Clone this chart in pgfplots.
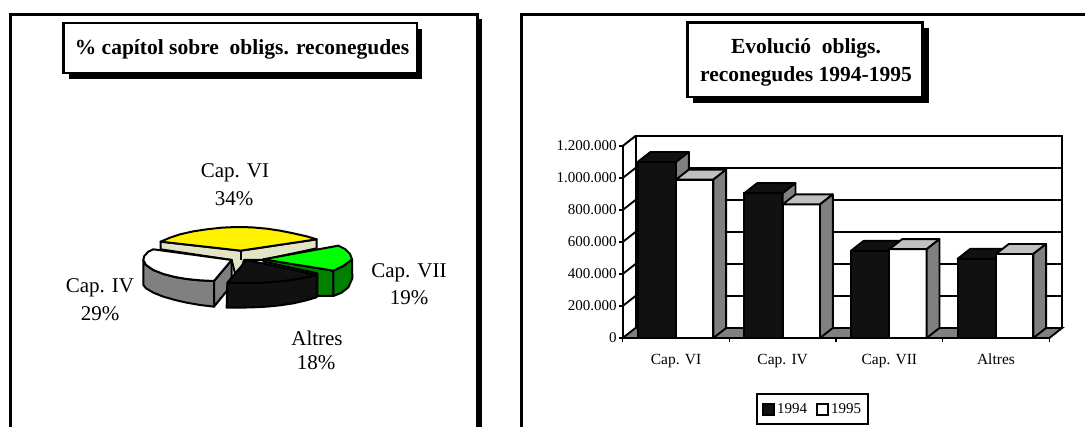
\documentclass[border=0pt]{standalone}
\usepackage{fontspec}
\setmainfont{Liberation Serif}
\usepackage{pgfplots}
\pgfplotsset{compat=1.18}
\definecolor{bardark}{HTML}{111111}
\definecolor{sidegray}{HTML}{808080}
\definecolor{topgray}{HTML}{C0C0C0}
\definecolor{beige}{HTML}{E3E3C6}
\definecolor{piegreen}{HTML}{00FF00}
\definecolor{darkgreen}{HTML}{008000}
\newcommand{\fs}[1]{\fontsize{#1}{#1}\selectfont}
% top and side face of a bar: x0, x1, x0 back, x1 back, value, value back, top colour
\newcommand{\caixa}[7]{
  \addplot[forget plot, fill=#7, draw=black, line width=1.9pt, line join=round] coordinates {(#1,#5) (#3,#6) (#4,#6) (#2,#5)} --cycle;
  \addplot[forget plot, fill=sidegray, draw=black, line width=1.9pt, line join=round] coordinates {(#2,#5) (#4,#6) (#4,62500) (#2,0)} --cycle;
}
\pgfplotsset{
  every axis/.append style={scale only axis},
  pieface/.style={draw=black, line width=2pt, line join=round},
}
\begin{document}
\begin{tikzpicture}[x=1pt,y=1pt]
\path[use as bounding box] (0pt,0pt) rectangle (1085pt,427pt);

% page furniture, in image pixels
\begin{axis}[at={(0pt,0pt)}, anchor=south west, width=1085pt, height=427pt,
  xmin=0, xmax=1085, ymin=0, ymax=427, y dir=reverse, axis lines=none, clip=false]
  \fill[black] (477,19) rectangle (481.5,427);
  \draw[line width=3pt] (10,427) -- (10,14.5) -- (477,14.5) -- (477,427);
  \draw[line width=3pt] (521,427) -- (521,14.5) -- (1085,14.5);

  \fill[black] (69,29) rectangle (422,79);
  \draw[line width=2.2pt, fill=white] (63.5,23) rectangle (417,73);
  \node[font=\fs{21.5}\bfseries] at (242,49) {\% capítol sobre\ \ obligs. reconegudes};

  \fill[black] (693,28) rectangle (929,103);
  \draw[line width=2.2pt, fill=white] (687.5,22.5) rectangle (922.5,97);
  \node[font=\fs{21.5}\bfseries] at (806,48.5) {Evolució\ \ obligs.};
  \node[font=\fs{21.5}\bfseries] at (806,76.5) {reconegudes 1994-1995};

  \node[font=\fs{21}] at (235,173) {Cap. VI};
  \node[font=\fs{21}] at (234,199) {34\%};
  \node[font=\fs{21}] at (409,272.5) {Cap. VII};
  \node[font=\fs{21}] at (409,298) {19\%};
  \node[font=\fs{21}] at (100,288) {Cap. IV};
  \node[font=\fs{21}] at (100,314) {29\%};
  \node[font=\fs{21}] at (317,338) {Altres};
  \node[font=\fs{21}] at (316,363) {18\%};
\end{axis}

% exploded pie, coordinates at three times its size
\begin{axis}[at={(120pt,107pt)}, anchor=south west, width=260pt, height=110pt,
  xmin=0, xmax=780, ymin=0, ymax=330, y dir=reverse, axis lines=none, clip=false]
  \addplot[pieface, fill=beige] coordinates {(122,95) (362,122) (590,88) (590,115) (428,150) (372,150) (360,190) (345,190) (335,150) (122,118)} --cycle;
  \addplot[pieface] coordinates {(362,122) (362,150)};
  \addplot[pieface, fill=yellow] coordinates {(122,95) (150,83) (180,73) (220,64) (260,58) (305,53) (350,51) (395,52) (440,56) (480,62) (520,70) (560,79) (590,88) (362,122)} --cycle;

  \addplot[pieface, fill=darkgreen] coordinates {(430,148) (640,182) (640,258) (592,258) (592,190) (430,155)} --cycle;
  \addplot[pieface, fill=darkgreen] coordinates {(640,182) (670,168) (696,148) (697,205) (685,232) (665,248) (640,258)} --cycle;
  \addplot[pieface, fill=piegreen] coordinates {(430,148) (655,107) (675,117) (690,132) (696,148) (670,168) (640,182)} --cycle;

  \addplot[pieface, fill=sidegray] coordinates {(70,150) (78,165) (100,180) (130,192) (165,201) (200,207) (240,211) (282,213) (282,290) (240,285) (200,278) (165,270) (130,260) (100,248) (78,235) (70,225)} --cycle;
  \addplot[pieface, fill=sidegray] coordinates {(282,213) (335,150) (335,225) (282,290)} --cycle;
  \addplot[pieface, fill=white] coordinates {(100,118) (85,125) (73,138) (70,150) (78,165) (100,180) (130,192) (165,201) (200,207) (240,211) (282,213) (335,150)} --cycle;

  \addplot[pieface, fill=bardark] coordinates {(322,218) (360,219) (400,219) (440,217) (480,214) (520,209) (555,203) (590,195) (590,262) (555,272) (520,280) (480,286) (440,290) (400,292) (360,293) (320,293)} --cycle;
  \addplot[pieface, fill=bardark] coordinates {(380,150) (590,195) (555,203) (520,209) (480,214) (440,217) (400,219) (360,219) (322,218)} --cycle;
\end{axis}

% 3D bars
\begin{axis}[at={(622.7pt,89pt)}, anchor=south west, width=426.6pt, height=192pt,
  xmin=0, xmax=4, ymin=0, ymax=1200000, clip=false,
  axis lines=left, axis line style={-, line width=2pt},
  xtick={0,1,2,3,4}, xticklabels={},
  extra x ticks={0.5,1.5,2.5,3.5},
  extra x tick labels={Cap. VI,Cap. IV,Cap. VII,Altres},
  extra x tick style={major tick length=0pt},
  ytick={0,200000,400000,600000,800000,1000000,1200000},
  scaled y ticks=false,
  tick style={black, line width=1.5pt},
  tick align=outside, major tick length=4pt,
  y tick label style={font=\fs{15}, xshift=1.5pt, /pgf/number format/fixed, /pgf/number format/1000 sep={.}, /pgf/number format/assume math mode=true},
  x tick label style={font=\fs{15.5}, yshift=-12pt, text height=11pt, text depth=3.5pt},
  legend columns=2,
  legend style={at={(0.445,-0.37)}, anchor=center, draw=black, line width=2pt, font=\fs{15}, inner xsep=5pt, inner ysep=7pt,
    /tikz/every even column/.append style={column sep=7pt}},
  legend image code/.code={\draw[#1, line width=2pt] (0pt,-5.5pt) rectangle (11pt,5.5pt);},
]
  % walls and floor
  \addplot[forget plot, fill=white, draw=black, line width=2pt] coordinates {(0.12,62500) (0.12,1262500) (4.12,1262500) (4.12,62500)} --cycle;
  \addplot[forget plot, fill=sidegray, draw=black, line width=1.9pt] coordinates {(0,0) (0.12,62500) (4.12,62500) (4,0)} --cycle;
  \addplot[forget plot, black, line width=2pt] coordinates {(0,1200000) (0.12,1262500)};
  \addplot[forget plot, black, line width=1.9pt] coordinates {(0,200000) (0.12,262500) (4.12,262500)};
  \addplot[forget plot, black, line width=1.9pt] coordinates {(0,400000) (0.12,462500) (4.12,462500)};
  \addplot[forget plot, black, line width=1.9pt] coordinates {(0,600000) (0.12,662500) (4.12,662500)};
  \addplot[forget plot, black, line width=1.9pt] coordinates {(0,800000) (0.12,862500) (4.12,862500)};
  \addplot[forget plot, black, line width=1.9pt] coordinates {(0,1000000) (0.12,1062500) (4.12,1062500)};

  \addplot[ybar, bar width=38.4pt, bar shift=-19.2pt, fill=bardark, draw=black, line width=1.9pt]
    coordinates {(0.5,1100000) (1.5,905000) (2.5,545000) (3.5,495000)};
  \addlegendentry{1994}
  \caixa{0.14}{0.5}{0.26}{0.62}{1100000}{1162500}{bardark}
  \caixa{1.14}{1.5}{1.26}{1.62}{905000}{967500}{bardark}
  \caixa{2.14}{2.5}{2.26}{2.62}{545000}{607500}{bardark}
  \caixa{3.14}{3.5}{3.26}{3.62}{495000}{557500}{bardark}

  \addplot[ybar, bar width=37.3pt, bar shift=18.6pt, fill=white, draw=black, line width=1.9pt]
    coordinates {(0.5,990000) (1.5,835000) (2.5,555000) (3.5,525000)};
  \addlegendentry{1995\hspace{10pt}}
  \caixa{0.5}{0.85}{0.62}{0.97}{990000}{1052500}{topgray}
  \caixa{1.5}{1.85}{1.62}{1.97}{835000}{897500}{topgray}
  \caixa{2.5}{2.85}{2.62}{2.97}{555000}{617500}{topgray}
  \caixa{3.5}{3.85}{3.62}{3.97}{525000}{587500}{topgray}
\end{axis}
\end{tikzpicture}
\end{document}
